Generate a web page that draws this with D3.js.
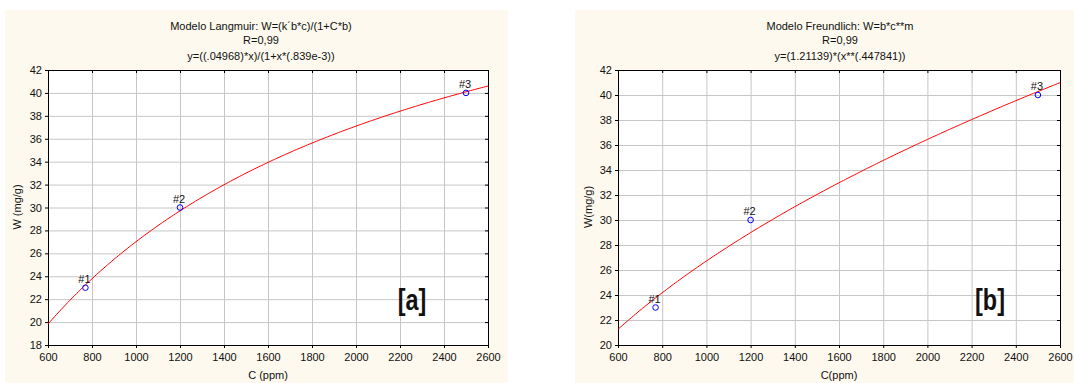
<!DOCTYPE html>
<html>
<head>
<meta charset="utf-8">
<script src="https://cdn.jsdelivr.net/npm/d3@7/dist/d3.min.js"></script>
<style>
  body { margin: 0; background: #fff; }
  svg { display: block; font-family: "Liberation Sans", Arial, sans-serif; }
  .tick-label { font-size: 11px; fill: #111; }
  .title { font-size: 11px; fill: #111; }
  .panel-tag { font-weight: bold; font-size: 30px; fill: #111; }
</style>
</head>
<body>
<div id="chart"></div>
<script>
'use strict';

// measured points (same for both panels)
const concentration = [770, 1200, 2500];
const adsorbed = [23, 30, 40];
const pointLabels = ['#1', '#2', '#3'];

// fitted model parameters (read from the titles)
const langmuirParams = [0.04968, 0.839e-3];
const freundlichParams = [1.21139, 0.447841];

// axis ticks
const xTicks = [600, 800, 1000, 1200, 1400, 1600, 1800, 2000, 2200, 2400, 2600];
const yTicksA = [18, 20, 22, 24, 26, 28, 30, 32, 34, 36, 38, 40, 42];
const yTicksB = [20, 22, 24, 26, 28, 30, 32, 34, 36, 38, 40, 42];

const titlesA = ['Modelo Langmuir: W=(k´b*c)/(1+C*b)', 'R=0,99', 'y=((.04968)*x)/(1+x*(.839e-3))'];
const titlesB = ['Modelo Freundlich: W=b*c**m', 'R=0,99', 'y=(1.21139)*(x**(.447841))'];

const svg = d3.select('#chart')
  .append('svg')
    .attr('width', 1074)
    .attr('height', 383);

function drawPanel(opt) {
  const g = svg.append('g');

  // cream panel background
  g.append('rect')
      .attr('x', opt.bg[0])
      .attr('y', 10)
      .attr('width', opt.bg[1] - opt.bg[0])
      .attr('height', 373)
      .attr('fill', '#fdf9ee');

  const x = d3.scaleLinear().domain([600, 2600]).range([opt.left, opt.right]);
  const y = d3.scaleLinear().domain([opt.yTicks[0], 42]).range([345, 70]);

  g.append('rect')
      .attr('x', opt.left)
      .attr('y', 70)
      .attr('width', opt.right - opt.left)
      .attr('height', 275)
      .attr('fill', '#fff');

  // grid
  g.append('g')
      .attr('transform', 'translate(0,345)')
      .call(d3.axisBottom(x).tickValues(xTicks).tickSize(-275).tickFormat(''))
      .call(s => s.select('.domain').remove())
      .call(s => s.selectAll('line').attr('stroke', '#c6c6c6'));
  g.append('g')
      .attr('transform', `translate(${opt.left},0)`)
      .call(d3.axisLeft(y).tickValues(opt.yTicks).tickSize(-(opt.right - opt.left)).tickFormat(''))
      .call(s => s.select('.domain').remove())
      .call(s => s.selectAll('line').attr('stroke', '#c6c6c6'));

  // axes with ticks
  const bottom = g.append('g')
      .attr('transform', 'translate(0,345)')
      .call(d3.axisBottom(x).tickValues(xTicks).tickFormat(d3.format('d'))
        .tickSize(3).tickPadding(5).tickSizeOuter(0));
  bottom.selectAll('text').attr('class', 'tick-label').attr('font-size', null).attr('font-family', null);

  g.append('g')
      .attr('transform', 'translate(0,70)')
      .call(d3.axisTop(x).tickValues(xTicks).tickSize(-3).tickFormat('').tickSizeOuter(0));

  const left = g.append('g')
      .attr('transform', `translate(${opt.left},0)`)
      .call(d3.axisLeft(y).tickValues(opt.yTicks).tickSize(3).tickPadding(3).tickSizeOuter(0));
  left.selectAll('text').attr('class', 'tick-label').attr('font-size', null).attr('font-family', null);

  g.append('g')
      .attr('transform', `translate(${opt.right},0)`)
      .call(d3.axisRight(y).tickValues(opt.yTicks).tickSize(-3).tickFormat('').tickSizeOuter(0));

  g.selectAll('.domain').attr('stroke', '#000');

  // fitted curve
  const xs = d3.range(600, 2601, 10);
  const line = d3.line()
      .x(d => x(d))
      .y(d => y(opt.model(d)));
  g.append('path')
      .datum(xs)
      .attr('fill', 'none')
      .attr('stroke', '#ff0000')
      .attr('stroke-width', 1)
      .attr('d', line);

  // points
  g.selectAll('circle.pt')
    .data(concentration)
    .join('circle')
      .attr('class', 'pt')
      .attr('cx', d => x(d))
      .attr('cy', (d, i) => y(adsorbed[i]))
      .attr('r', 2.8)
      .attr('fill', 'none')
      .attr('stroke', '#0000ff')
      .attr('stroke-width', 1);

  g.selectAll('text.pl')
    .data(concentration)
    .join('text')
      .attr('class', 'tick-label pl')
      .attr('x', d => x(d) - 1)
      .attr('y', (d, i) => y(adsorbed[i]) - 5)
      .attr('text-anchor', 'middle')
      .text((d, i) => pointLabels[i]);

  // titles
  opt.titles.forEach((t, i) => {
    g.append('text')
        .attr('class', 'title')
        .attr('x', opt.titleX)
        .attr('y', [30, 44, 60][i])
        .attr('text-anchor', 'middle')
        .text(t);
  });

  g.append('text')
      .attr('class', 'tick-label')
      .attr('x', (opt.left + opt.right) / 2)
      .attr('y', 379)
      .attr('text-anchor', 'middle')
      .text(opt.xTitle);

  g.append('text')
      .attr('class', 'tick-label')
      .attr('transform', `translate(${opt.yTitleX},207) rotate(-90)`)
      .attr('text-anchor', 'middle')
      .text(opt.yTitle);

  // bold tag, squeezed horizontally to look condensed
  g.append('text')
      .attr('class', 'panel-tag')
      .attr('transform', `translate(${opt.tagX},310) scale(0.78,1)`)
      .attr('text-anchor', 'middle')
      .text(opt.tag);
}

drawPanel({
  bg: [5, 508], left: 48, right: 488,
  yTicks: yTicksA,
  model: c => (langmuirParams[0] * c) / (1 + c * langmuirParams[1]),
  titles: titlesA, titleX: 261,
  xTitle: 'C (ppm)', yTitle: 'W (mg/g)', yTitleX: 21,
  tag: '[a]', tagX: 412
});

drawPanel({
  bg: [575, 1074], left: 618, right: 1060,
  yTicks: yTicksB,
  model: c => freundlichParams[0] * Math.pow(c, freundlichParams[1]),
  titles: titlesB, titleX: 840,
  xTitle: 'C(ppm)', yTitle: 'W(mg/g)', yTitleX: 592,
  tag: '[b]', tagX: 990
});
</script>
</body>
</html>
